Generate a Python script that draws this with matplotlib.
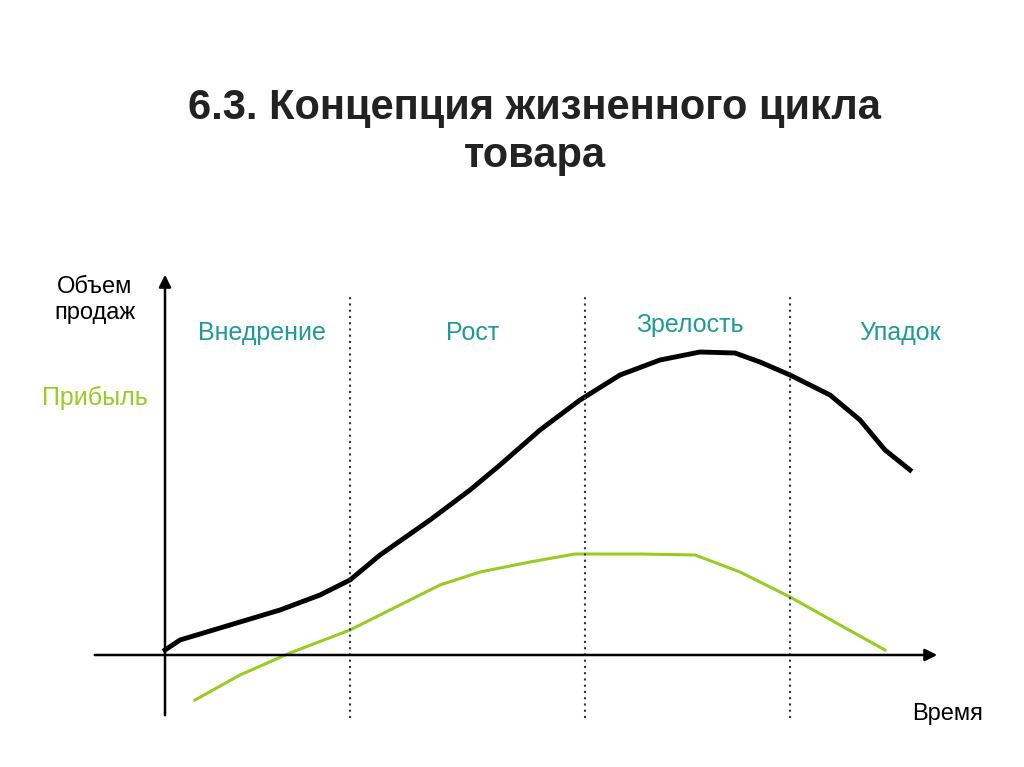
import matplotlib.pyplot as plt

plt.rcParams['font.family'] = ['Liberation Sans', 'DejaVu Sans']

# origin of the chart in image pixels; data are offsets from it
X0, Y0 = 165, 655

sales_t = [0, 15, 65, 115, 155, 185, 215, 265, 305, 335, 375, 415, 455, 495, 535, 570, 595, 625, 665, 695, 720, 745]
sales_v = [5, 15, 30, 45, 60, 75, 100, 135, 165, 190, 225, 255, 280, 295, 303, 302, 293, 280, 260, 235, 205, 185]
profit_t = [30, 75, 125, 185, 235, 275, 315, 365, 410, 475, 530, 575, 625, 675, 720]
profit_v = [-45, -20, 2, 25, 50, 70, 83, 93, 101, 101, 100, 83, 58, 30, 5]
stage_bounds = [185, 420, 625]
stages = ["Внедрение", "Рост", "Зрелость", "Упадок"]
stage_pos = [(262, 333), (473, 333), (690, 325), (900, 333)]

fig = plt.figure(figsize=(10.24, 7.67), dpi=100)
ax = fig.add_axes([0, 0, 1, 1])
ax.set_xlim(-X0, 1024 - X0)
ax.set_ylim(Y0 - 767, Y0)
ax.axis('off')

teal = '#1f9a9a'
green = '#99cc22'

ax.plot(sales_t, sales_v, color='black', lw=3.5)
ax.plot(profit_t, profit_v, color=green, lw=2.2)
for b in stage_bounds:
    ax.plot([b, b], [Y0 - 718, Y0 - 297], color='#333333', lw=1.5, ls=(0, (1, 2)))

ax.annotate('', xy=(0, Y0 - 272), xytext=(0, Y0 - 718),
            arrowprops=dict(arrowstyle='-|>', color='black', lw=1.8, mutation_scale=18))
ax.annotate('', xy=(940 - X0, 0), xytext=(92 - X0, 0),
            arrowprops=dict(arrowstyle='-|>', color='black', lw=1.8, mutation_scale=18))

for name, (px, py) in zip(stages, stage_pos):
    ax.text(px - X0, Y0 - py, name, color=teal, fontsize=18, ha='center', va='center')

ax.text(95 - X0, Y0 - 300, "Объем\nпродаж", fontsize=17, ha='center', va='center', linespacing=1.2)
ax.text(95 - X0, Y0 - 398, "Прибыль", fontsize=18, ha='center', va='center', color=green)
ax.text(948 - X0, Y0 - 714, "Время", fontsize=17, ha='center', va='center')
ax.text(535 - X0, Y0 - 132, "6.3. Концепция жизненного цикла\nтовара", fontsize=30,
        fontweight='bold', ha='center', va='center', color='#222222', linespacing=1.25)

fig.savefig('out.png', dpi=100)
